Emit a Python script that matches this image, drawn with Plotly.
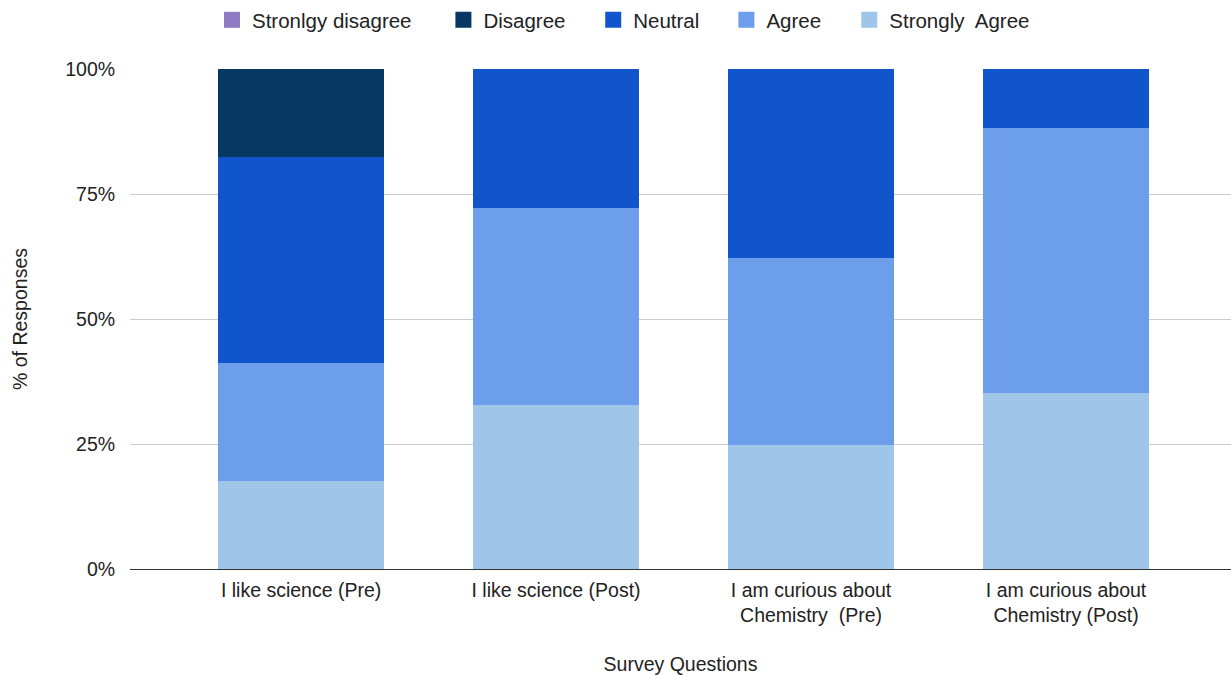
import plotly.graph_objects as go

# Survey questions (x categories)
questions = [
    "I like science (Pre)",
    "I like science (Post)",
    "I am curious about<br>Chemistry  (Pre)",
    "I am curious about<br>Chemistry (Post)",
]

# Share of responses per answer, in percent
strongly_agree = [17.6, 32.9, 24.8, 35.2]
agree = [23.6, 39.3, 37.4, 53.0]
neutral = [41.2, 27.8, 37.8, 11.8]
disagree = [17.6, 0.0, 0.0, 0.0]
strongly_disagree = [0.0, 0.0, 0.0, 0.0]

y_ticks = [0, 25, 50, 75, 100]
y_tick_labels = ["0%", "25%", "50%", "75%", "100%"]

# stacked from the bottom up
series = [
    ("Strongly  Agree", strongly_agree, "#9fc5e8"),
    ("Agree", agree, "#6d9eeb"),
    ("Neutral", neutral, "#1155cc"),
    ("Disagree", disagree, "#073763"),
    ("Stronlgy disagree", strongly_disagree, "#8e7cc3"),
]

# left edge (container fraction) of each legend entry, in display order
legend_x = {
    "Stronlgy disagree": 0.1722,
    "Disagree": 0.3602,
    "Neutral": 0.4819,
    "Agree": 0.5901,
    "Strongly  Agree": 0.6899,
}

x_pos = list(range(len(questions)))
text_color = "#222222"
font = "Liberation Sans, Arial, sans-serif"

fig = go.Figure()
layout_legends = {}
for i, (name, vals, color) in enumerate(series):
    lg = "legend" if i == 0 else f"legend{i + 1}"
    fig.add_trace(go.Bar(
        x=x_pos, y=vals, name=name,
        marker=dict(color=color, line=dict(width=0)),
        width=0.651, showlegend=False,
    ))
    # legend entry drawn as a square swatch
    fig.add_trace(go.Scatter(
        x=[None], y=[None], mode="markers", name=name,
        marker=dict(symbol="square", size=19, color=color),
        legend=lg, showlegend=True, hoverinfo="skip",
    ))
    layout_legends[lg] = dict(
        orientation="h",
        xref="container", yref="container",
        x=legend_x[name], xanchor="left", y=1.0, yanchor="top",
        font=dict(family=font, size=20.5, color=text_color),
        bgcolor="rgba(0,0,0,0)", itemwidth=30,
    )

fig.update_layout(
    barmode="stack",
    width=1231, height=675,
    margin=dict(l=130, r=0, t=69, b=106),
    paper_bgcolor="white", plot_bgcolor="white",
    font=dict(family=font, size=19.5, color=text_color),
    xaxis=dict(
        tickmode="array", tickvals=x_pos, ticktext=questions,
        range=[-0.671, 3.647],
        showgrid=False, showline=False, ticks="",
        ticklabelstandoff=7,
        tickfont=dict(size=19.5, color=text_color),
        title=dict(text="Survey Questions", font=dict(size=19.5, color=text_color), standoff=36),
    ),
    yaxis=dict(
        range=[0, 100], tickmode="array", tickvals=y_ticks, ticktext=y_tick_labels,
        showgrid=True, gridcolor="#cccccc", gridwidth=1,
        zeroline=True, zerolinecolor="#333333", zerolinewidth=1,
        ticks="outside", ticklen=10, tickcolor="white",
        tickfont=dict(size=19.5, color=text_color),
        title=dict(text="% of Responses", font=dict(size=19.5, color=text_color), standoff=32),
    ),
    **layout_legends,
)

fig.write_html("out.html")
